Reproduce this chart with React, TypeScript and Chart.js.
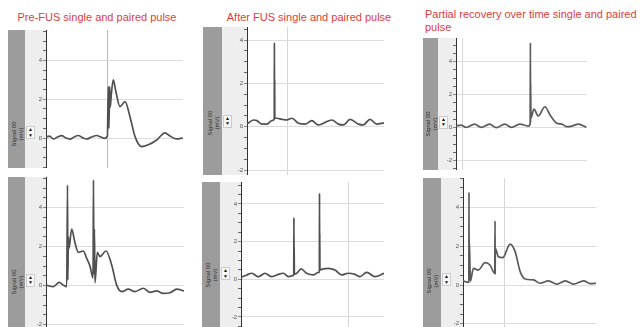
import React, { useEffect, useRef } from 'react';
import { Chart, registerables } from 'chart.js';

Chart.register(...registerables);

// ---- Text ----
const TITLE_1 = 'Pre-FUS single and paired pulse';
const TITLE_2 = 'After FUS single and paired pulse';
const TITLE_3A = 'Partial recovery over time single and paired';
const TITLE_3B = 'pulse';
const AXIS_LABEL_1 = 'Signal 00';
const AXIS_LABEL_2 = '(mV)';

// ---- Ticks ----
const Y_TICK_LABELS = [-2, 0, 2, 4];
const Y_MINOR_TICKS = [-2.5, -2, -1.5, -1, -0.5, 0, 0.5, 1, 1.5, 2, 2.5, 3, 3.5, 4, 4.5, 5, 5.5];

// ---- Data (x in arbitrary time units 0..100, y in mV) ----
// Top-left: Pre-FUS single pulse
const P1_X = [0, 2.5, 5.4, 8.5, 11.4, 14.5, 17.5, 20.5, 23.6, 26.6, 29.7, 33.3, 37, 40, 42.5, 44.8, 45.5, 45.9, 46.5, 46.9, 47.6, 49.1, 51, 54, 57.7, 61.3, 65, 69.9, 74.7, 80.8, 86.9, 90.5, 95.4, 100];
const P1_Y = [0.05, 0.1, -0.05, 0.05, 0.12, 0.0, -0.06, 0.05, 0.13, 0.02, -0.05, 0.05, 0.13, 0.05, -0.02, 0.1, 2.65, 0.5, 2.65, 1.6, 2.2, 3.0, 2.4, 1.62, 1.88, 1.1, 0.07, -0.45, -0.35, -0.1, 0.27, 0.1, -0.05, 0.0];

// Bottom-left: Pre-FUS paired pulse
const P2_X = [0, 5.3, 9.6, 12.5, 15, 15.6, 15.8, 16.2, 16.6, 18.6, 21, 23.4, 27, 29.5, 31.9, 34.1, 34.4, 34.7, 35.1, 35.5, 37.2, 39.1, 43.5, 47.6, 51.2, 54.9, 59.6, 64.5, 70.5, 75.4, 80.2, 85, 89.9, 94.7, 100];
const P2_Y = [0.03, -0.05, 0.17, 0.03, -0.05, 5.16, 0.3, 2.5, 1.9, 2.9, 2.2, 1.71, 1.78, 1.4, 1.0, 0.4, 5.42, 0.6, 2.9, 0.15, 1.71, 1.49, 1.78, 1.06, 0.03, -0.3, -0.18, -0.3, -0.13, -0.34, -0.27, -0.39, -0.36, -0.18, -0.27];

// Top-middle: After FUS single pulse
const P3_X = [0, 4.8, 7.3, 10.9, 14.6, 18.2, 19.9, 20.0, 20.1, 20.2, 20.3, 21.8, 25.5, 29.1, 32.8, 37.6, 42.5, 47.3, 52.1, 55.8, 61.9, 66.7, 70.4, 75.2, 81.3, 84.9, 89.8, 94.7, 100];
const P3_Y = [0.12, 0.31, 0.28, 0.12, 0.12, 0.28, 0.35, 3.88, 0.45, 2.1, 0.4, 0.39, 0.34, 0.31, 0.39, 0.16, 0.12, 0.28, 0.08, 0.16, 0.31, 0.12, 0.08, 0.34, 0.12, 0.08, 0.34, 0.12, 0.18];

// Bottom-middle: After FUS paired pulse
const P4_X = [0, 4, 7.5, 12.1, 16.8, 21.5, 25, 29.6, 33.1, 35.9, 36.9, 37.0, 37.1, 37.2, 37.3, 39, 42, 45.9, 50.6, 54.1, 54.8, 54.9, 55.0, 55.1, 55.2, 57.6, 61, 65.7, 70.4, 75, 79.7, 83.2, 87.9, 93.7, 100];
const P4_Y = [0.1, 0.23, 0.32, 0.14, 0.32, 0.14, 0.23, 0.32, 0.14, 0.19, 0.2, 3.27, 0.3, 1.73, 0.28, 0.32, 0.55, 0.32, 0.23, 0.37, 0.38, 4.57, 0.45, 2.44, 0.5, 0.55, 0.58, 0.49, 0.23, 0.32, 0.26, 0.14, 0.37, 0.14, 0.32];

// Top-right: Partial recovery single pulse
const P5_X = [0, 3.8, 7.7, 14.1, 19.2, 25.6, 30.8, 37.2, 42.3, 48.7, 55.1, 56.6, 56.8, 56.9, 57.0, 57.2, 59.5, 62.8, 67.9, 71.8, 76.9, 80.8, 84.6, 88.5, 93.5, 99.5];
const P5_Y = [0.1, 0.16, 0.02, 0.22, 0.02, 0.22, 0, 0.22, 0.02, 0.22, 0.1, 0.2, 5.15, 0.3, 2.65, 0.6, 1.12, 0.71, 1.27, 0.77, 0.27, 0.22, 0.06, 0.1, 0.22, 0.02];

// Bottom-right: Partial recovery paired pulse
const P6_X = [0, 4, 4.4, 4.5, 4.6, 4.7, 5.6, 7.8, 11.5, 16.6, 20.3, 23.9, 24.1, 24.2, 24.3, 26.6, 29.9, 35.4, 39.2, 43, 46.7, 53, 58, 64.3, 70.6, 76.9, 83.1, 90.7, 95.7, 100];
const P6_Y = [0.21, 0.14, 0.15, 4.78, 0.2, 2.37, 0.2, 0.86, 0.77, 1.15, 1.03, 0.6, 3.3, 0.55, 1.89, 1.46, 1.41, 2.11, 1.72, 0.69, 0.31, 0.26, 0.09, 0.21, 0.04, 0.21, 0.04, 0.21, 0.07, 0.09];

// Vertical grid positions (x units)
const P1_VGRID = [45, 100];
const P2_VGRID = [100];
const P3_VGRID = [29.6];
const P4_VGRID = [75];
const P5_VGRID = [4.8];
const P6_VGRID = [30.9];

// ---- Layout (pixels) ----
type Geo = { dark: number; light: number; axis: number; right: number; top: number; bottom: number; zero: number; ppu: number };
const G1: Geo = { dark: 8, light: 25, axis: 46, right: 183, top: 30, bottom: 168, zero: 138, ppu: 19.35 };
const G2: Geo = { dark: 8, light: 25, axis: 46, right: 184, top: 177, bottom: 330, zero: 285.7, ppu: 19.5 };
const G3: Geo = { dark: 203, light: 222, axis: 247, right: 384, top: 27, bottom: 175, zero: 126.7, ppu: 21.67 };
const G4: Geo = { dark: 202, light: 220, axis: 241, right: 384, top: 182, bottom: 330, zero: 279.3, ppu: 18.83 };
const G5: Geo = { dark: 423, light: 438, axis: 456, right: 587, top: 38, bottom: 170, zero: 127.7, ppu: 16.5 };
const G6: Geo = { dark: 423, light: 441, axis: 463, right: 596, top: 178, bottom: 330, zero: 285, ppu: 19.4 };

const FONT = '"Liberation Sans", Arial, sans-serif';

function Panel({ g, xs, ys, vgrid, color, vgridColor }: { g: Geo; xs: number[]; ys: number[]; vgrid: number[]; color: string; vgridColor: string }) {
  const ref = useRef<HTMLCanvasElement>(null);
  useEffect(() => {
    const yMax = (g.zero - g.top) / g.ppu;
    const yMin = -(g.bottom - g.zero) / g.ppu;
    const chart = new Chart(ref.current as HTMLCanvasElement, {
      type: 'line',
      data: {
        datasets: [
          {
            data: xs.map((x, i) => ({ x, y: ys[i] })),
            borderColor: color,
            borderWidth: 1.7,
            pointRadius: 0,
            cubicInterpolationMode: 'monotone',
            fill: false,
          },
        ],
      },
      options: {
        animation: false,
        responsive: false,
        maintainAspectRatio: false,
        events: [],
        layout: { padding: 0 },
        plugins: { legend: { display: false }, tooltip: { enabled: false }, title: { display: false } },
        scales: {
          x: {
            type: 'linear',
            min: 0,
            max: 100,
            afterBuildTicks: (s: any) => {
              s.ticks = vgrid.map((v) => ({ value: v }));
            },
            ticks: { display: false },
            grid: { color: vgridColor, drawTicks: false, lineWidth: 1 },
            border: { display: false },
            afterFit: (s: any) => {
              s.height = 0;
              s.paddingLeft = 0;
              s.paddingRight = 0;
            },
          },
          y: {
            type: 'linear',
            min: yMin,
            max: yMax,
            afterBuildTicks: (s: any) => {
              s.ticks = Y_MINOR_TICKS.filter((v) => v > yMin && v < yMax).map((v) => ({ value: v }));
            },
            ticks: {
              autoSkip: false,
              callback: (v: any) => (Y_TICK_LABELS.includes(Number(v)) ? String(v) : ''),
              font: { size: 6, family: FONT },
              color: '#555',
              padding: 1,
            },
            grid: {
              color: (ctx: any) => (ctx.tick && Y_TICK_LABELS.includes(ctx.tick.value) ? '#dcdcdc' : 'rgba(0,0,0,0)'),
              tickColor: (ctx: any) => (ctx.tick && Y_TICK_LABELS.includes(ctx.tick.value) ? '#888' : '#666'),
              tickLength: 3,
              lineWidth: 1,
            },
            border: { display: true, color: '#333', width: 1 },
            afterFit: (s: any) => {
              s.width = g.axis - g.light;
              s.paddingTop = 0;
              s.paddingBottom = 0;
            },
          },
        },
      },
    } as any);
    return () => chart.destroy();
  }, []);
  const h = g.bottom - g.top;
  const cy = g.zero - 4;
  const cx = g.dark + (g.light - g.dark) / 2 + 1;
  return (
    <>
      <div style={{ position: 'absolute', left: g.dark, top: g.top, width: g.light - g.dark, height: h, background: '#9c9c9c' }} />
      <div style={{ position: 'absolute', left: g.light, top: g.top, width: g.axis - g.light, height: h, background: '#eeeeee' }} />
      <canvas
        ref={ref}
        width={g.right - g.light}
        height={h}
        style={{ position: 'absolute', left: g.light, top: g.top, width: g.right - g.light, height: h }}
      />
      <div
        style={{
          position: 'absolute',
          left: cx - 20,
          top: cy - 7,
          width: 40,
          height: 14,
          transform: 'rotate(-90deg)',
          fontFamily: FONT,
          fontSize: 6,
          lineHeight: '7px',
          textAlign: 'center',
          color: '#333',
          whiteSpace: 'nowrap',
        }}
      >
        {AXIS_LABEL_1}
        <br />
        {AXIS_LABEL_2}
      </div>
      <div
        style={{
          position: 'absolute',
          left: g.light + 1,
          top: g.zero - 12,
          width: 7,
          height: 11,
          background: '#f8f8f8',
          border: '1px solid #ccc',
          fontFamily: FONT,
          fontSize: 5,
          lineHeight: '5.5px',
          textAlign: 'center',
          color: '#111',
        }}
      >
        ▲
        <br />▼
      </div>
    </>
  );
}

const titleStyle: React.CSSProperties = {
  position: 'absolute',
  fontFamily: FONT,
  fontSize: 11,
  color: '#e03c3c',
  whiteSpace: 'nowrap',
  lineHeight: '13px',
};

export default function App() {
  useEffect(() => {
    document.body.style.margin = '0';
  }, []);
  return (
    <div style={{ position: 'fixed', left: 0, top: 0, width: 640, height: 327, overflow: 'hidden', background: '#fff' }}>
      <div style={{ ...titleStyle, left: 17, top: 11, width: 160, textAlign: 'center' }}>{TITLE_1}</div>
      <div style={{ ...titleStyle, left: 226, top: 11, width: 166, textAlign: 'center' }}>{TITLE_2}</div>
      <div style={{ ...titleStyle, left: 425, top: 8 }}>
        {TITLE_3A}
        <br />
        {TITLE_3B}
      </div>
      <Panel g={G1} xs={P1_X} ys={P1_Y} vgrid={P1_VGRID} color="#505050" vgridColor="#b8b8b8" />
      <Panel g={G2} xs={P2_X} ys={P2_Y} vgrid={P2_VGRID} color="#505050" vgridColor="#d6d6d6" />
      <Panel g={G3} xs={P3_X} ys={P3_Y} vgrid={P3_VGRID} color="#505050" vgridColor="#d6d6d6" />
      <Panel g={G4} xs={P4_X} ys={P4_Y} vgrid={P4_VGRID} color="#505050" vgridColor="#d6d6d6" />
      <Panel g={G5} xs={P5_X} ys={P5_Y} vgrid={P5_VGRID} color="#5a5a5a" vgridColor="#d6d6d6" />
      <Panel g={G6} xs={P6_X} ys={P6_Y} vgrid={P6_VGRID} color="#5a5a5a" vgridColor="#d6d6d6" />
    </div>
  );
}
